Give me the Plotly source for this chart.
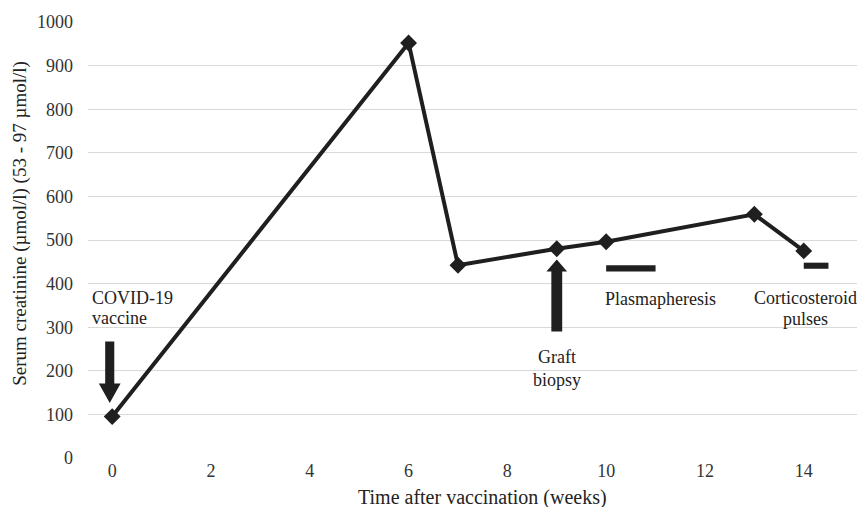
import plotly.graph_objects as go

weeks = [0, 6, 7, 9, 10, 13, 14]
creatinine = [95, 952, 442, 480, 496, 559, 475]

x_ticks = [0, 2, 4, 6, 8, 10, 12, 14]
y_ticks = [0, 100, 200, 300, 400, 500, 600, 700, 800, 900, 1000]

# treatment bars: (start week, end week, level)
plasma_bar = [10, 11, 435]
cortico_bar = [14, 14.5, 441]

# arrows: (x, tail y, head base y, tip y)
vaccine_arrow = [-0.05, 267, 171, 126]
biopsy_arrow = [9.0, 290, 428, 455]

# label lines
label_lines = ["COVID-19", "vaccine", "Graft", "biopsy", "Plasmapheresis", "Corticosteroid", "pulses"]
label_x = [-0.44, -0.44, 9.0, 9.0, 9.93, 14.04, 14.04]
label_y = [366, 322, 232, 179, 364, 366, 318]
label_anchor = ["left", "left", "center", "center", "left", "center", "center"]

x_title = "Time after vaccination (weeks)"
y_title = "Serum creatinine (µmol/l) (53 - 97 µmol/l)"

INK = "#1f1f1f"
TXT = "#222222"
FONT = "Liberation Serif, Times New Roman, DejaVu Serif, serif"

fig = go.Figure()
fig.add_trace(go.Scatter(
    x=weeks, y=creatinine, mode="lines+markers",
    line=dict(color=INK, width=4),
    marker=dict(symbol="diamond", size=13, color=INK),
    showlegend=False, hoverinfo="skip"))

def arrow_path(a, shaft_hw, head_hw):
    x, tail, base, tip = a
    return (f"M {x-shaft_hw},{tail} L {x+shaft_hw},{tail} L {x+shaft_hw},{base} "
            f"L {x+head_hw},{base} L {x},{tip} L {x-head_hw},{base} L {x-shaft_hw},{base} Z")

shapes = [
    dict(type="path", path=arrow_path(vaccine_arrow, 0.092, 0.22), xref="x", yref="y",
         fillcolor=INK, line=dict(width=0)),
    dict(type="path", path=arrow_path(biopsy_arrow, 0.11, 0.21), xref="x", yref="y",
         fillcolor=INK, line=dict(width=0)),
]
for b in (plasma_bar, cortico_bar):
    shapes.append(dict(type="rect", x0=b[0], x1=b[1], y0=b[2] - 7, y1=b[2] + 7,
                       xref="x", yref="y", fillcolor=INK, line=dict(width=0)))

annotations = []
for t, x, y, xa in zip(label_lines, label_x, label_y, label_anchor):
    annotations.append(dict(text=t, x=x, y=y, xref="x", yref="y", showarrow=False,
                            xanchor=xa, yanchor="middle",
                            font=dict(family=FONT, size=18, color=TXT)))

# y-axis title as annotation for precise placement
annotations.append(dict(text=y_title, textangle=-90, xref="paper", yref="paper",
                        x=0, y=0.537, xanchor="center", yanchor="middle", xshift=-68,
                        showarrow=False, font=dict(family=FONT, size=19, color=TXT)))
# x-axis title as annotation
annotations.append(dict(text=x_title, xref="paper", yref="paper",
                        x=0.5, y=0, xanchor="center", yanchor="middle", xshift=6, yshift=-39,
                        showarrow=False, font=dict(family=FONT, size=20, color=TXT)))

fig.update_layout(
    width=857, height=499, autosize=False,
    margin=dict(l=80, r=0, t=14, b=49, pad=0),
    paper_bgcolor="white", plot_bgcolor="white",
    shapes=shapes, annotations=annotations,
    font=dict(family=FONT, size=18, color="#333333"),
    xaxis=dict(range=[-0.49, 15.24], tickvals=x_ticks, showgrid=False, zeroline=False,
               showline=False, ticks="", ticklabelstandoff=0,
               tickfont=dict(family=FONT, size=18, color="#333333")),
    yaxis=dict(range=[0, 1000], tickvals=y_ticks, showgrid=True, gridcolor="#d9d9d9",
               gridwidth=1, zeroline=False, showline=False, ticks="", ticklabelstandoff=14,
               tickfont=dict(family=FONT, size=18, color="#333333")),
)

fig.write_html("out.html")
